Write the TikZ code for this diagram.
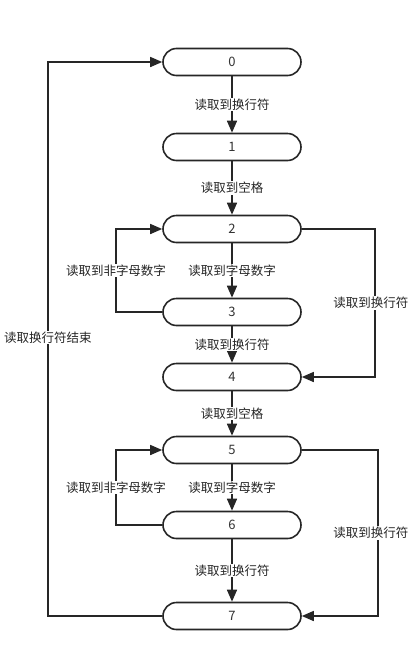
\documentclass[tikz,border=0pt]{standalone}
\usepackage{fontspec}
\setmainfont{Noto Sans CJK SC}
\usetikzlibrary{arrows.meta}
\begin{document}
\begin{tikzpicture}[x=1pt,y=-1pt,
  state/.style={draw=black!85,line width=1.6pt,rounded corners=13.5pt,minimum width=138pt,minimum height=27pt,inner sep=0pt,font=\fontsize{13}{15}\selectfont,text=black!80},
  lbl/.style={fill=white,inner sep=1pt,font=\fontsize{12.5}{14}\selectfont,text=black!85},
  conn/.style={draw=black!85,line width=1.5pt,-{Triangle[length=12pt,width=10pt]}},
  ln/.style={draw=black!85,line width=1.5pt}]
\useasboundingbox (0,0) rectangle (410,662);
\node[state] (s0) at (232,62) {0};
\node[state] (s1) at (232,147) {1};
\node[state] (s2) at (232,229) {2};
\node[state] (s3) at (232,312) {3};
\node[state] (s4) at (232,377) {4};
\node[state] (s5) at (232,450) {5};
\node[state] (s6) at (232,525) {6};
\node[state] (s7) at (232,616) {7};
\coordinate (a2) at (116,229);
\coordinate (a3) at (116,312);
\coordinate (b2) at (375,229);
\coordinate (b4) at (375,377);
\coordinate (a5) at (116,450);
\coordinate (a6) at (116,525);
\coordinate (b5) at (378,450);
\coordinate (b7) at (378,616);
\coordinate (c7) at (48,616);
\coordinate (c0) at (48,62);
% main chain
\draw[conn] (s0) -- (s1) node[midway,lbl] {读取到换行符};
\draw[conn] (s1) -- (s2) node[midway,lbl] {读取到空格};
\draw[conn] (s2) -- (s3) node[midway,lbl] {读取到字母数字};
\draw[conn] (s3) -- (s4) node[midway,lbl] {读取到换行符};
\draw[conn] (s4) -- (s5) node[midway,lbl] {读取到空格};
\draw[conn] (s5) -- (s6) node[midway,lbl] {读取到字母数字};
\draw[conn] (s6) -- (s7) node[pos=0.5,lbl] {读取到换行符};
% left loops
\draw[conn] (s3.west) -- (a3) -- (a2) node[midway,lbl] {读取到非字母数字} -- (s2.west);
\draw[conn] (s6.west) -- (a6) -- (a5) node[midway,lbl] {读取到非字母数字} -- (s5.west);
% right bypasses
\draw[conn] (s2.east) -- (b2) -- (b4) -- (s4.east);
\node[lbl,anchor=east] (r1) at (409.5,303) {读取到换行符};
\draw[conn] (s5.east) -- (b5) -- (b7) -- (s7.east);
\node[lbl,anchor=east] (r2) at (409.5,533) {读取到换行符};
% big loop
\draw[conn] (s7.west) -- (c7) -- (c0) node[pos=0.503,lbl] {读取换行符结束} -- (s0.west);
\end{tikzpicture}
\end{document}
